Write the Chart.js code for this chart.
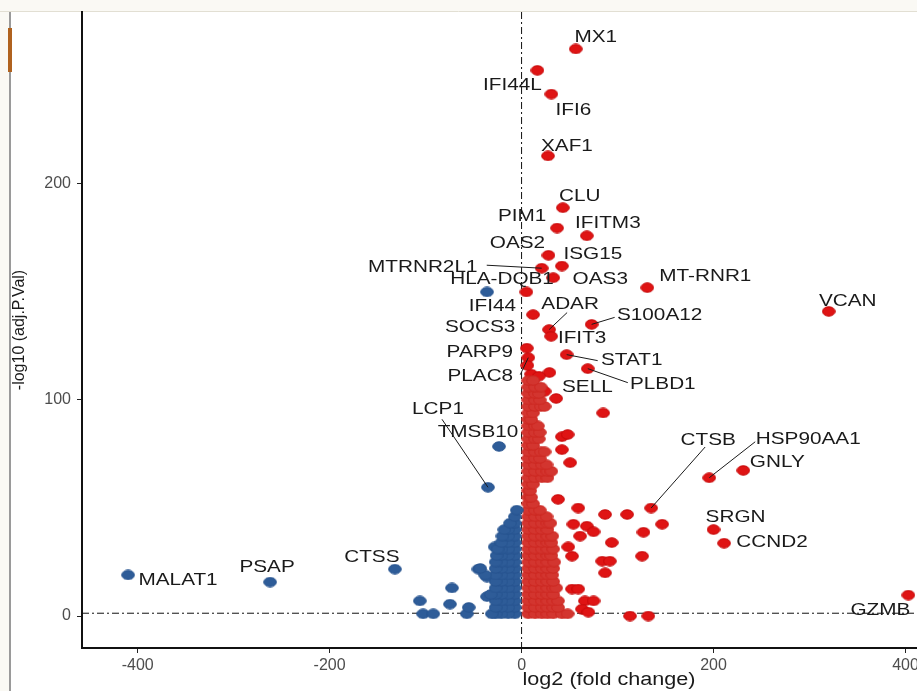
<!DOCTYPE html>
<html>
<head>
<meta charset="utf-8">
<script src="https://cdn.jsdelivr.net/npm/chart.js@4.4.1/dist/chart.umd.min.js"></script>
<style>
  html, body { margin: 0; padding: 0; background: #fff; }
  canvas { display: block; }
</style>
</head>
<body>
<canvas id="volcano" width="917" height="691"></canvas>
<script>
// labelled up-regulated genes
const upGenes = ["MX1", "IFI44L", "IFI6", "XAF1", "CLU", "PIM1", "IFITM3", "OAS2", "ISG15", "MTRNR2L1",
  "OAS3", "IFI44", "MT-RNR1", "VCAN", "SOCS3", "ADAR", "IFIT3", "S100A12", "PARP9", "STAT1",
  "PLAC8", "SELL", "PLBD1", "HSP90AA1", "GNLY", "CTSB", "SRGN", "CCND2", "GZMB"];
const upLogFC = [56.5, 16.5, 31, 27.5, 43, 37, 68, 28, 42, 21,
  33, 5, 131, 320, 12, 28.7, 30.8, 73, 5.5, 47,
  7, 29, 69, 195.5, 231, 135, 200, 211, 403];
const upLogP = [262.5, 252.6, 241.6, 213, 189, 179.6, 176, 167, 162, 161,
  156.6, 150, 152, 141, 139.5, 132.6, 129.5, 135, 124, 121,
  119.6, 112.7, 114.5, 64, 67.4, 50, 40, 33.7, 9.7];

// labelled down-regulated genes
const downGenes = ["MALAT1", "PSAP", "CTSS", "LCP1", "TMSB10", "HLA-DQB1"];
const downLogFC = [-410, -262, -132, -35, -23.5, -36];
const downLogP = [19, 15.7, 21.7, 59.6, 78.5, 150];

// unlabelled scattered genes
const otherUpFC = [36, 85, 42, 48, 42, 50.6, 38, 59, 87, 110, 146.5, 127, 54, 68, 75, 61, 94, 48.6, 52.6, 125.6,
  84, 92, 87, 52.6, 59, 66, 75, 63, 69.6, 113, 132, 10, 6, 18, 24];
const otherUpP = [100.7, 94, 83, 84, 77, 71, 54, 50, 47, 47, 42.5, 38.8, 42.5, 41.6, 39, 37, 34, 32, 27.7, 27.7,
  25.4, 25.4, 20, 12.5, 12.5, 7, 7, 3.2, 1.8, 0, 0, 112, 116, 111, 104];
const otherDownFC = [-45, -36, -72.5, -106, -74.6, -102.6, -92, -57, -55, -36, -28];
const otherDownP = [21.7, 18, 13, 7, 5.5, 1, 1, 1, 4, 9, 32];

// the dense cloud next to zero, read row by row (-log10 p, then fold changes in that row)
const upCoreP = [1, 4, 7, 10, 13, 16, 19, 22, 25, 28, 31, 34, 37, 40, 43, 46, 49, 52, 55, 58,
  61, 64, 67, 70, 73, 76, 79, 82, 85, 88, 91, 94, 97, 100, 103, 106, 109];
const upCoreFC = [
  [7, 14, 21, 27, 33, 42, 48], [7, 14, 21, 27, 33, 38], [7, 14, 21, 27, 33, 38], [7, 14, 21, 27, 33],
  [7, 14, 21, 27, 33, 36], [7, 14, 21, 27, 33], [7, 14, 21, 27, 32], [7, 14, 21, 27, 33],
  [7, 14, 21, 27, 34], [7, 14, 21, 27, 31], [7, 14, 21, 27, 33], [7, 14, 21, 27, 31],
  [7, 14, 21, 27, 32], [7, 14, 21, 27], [7, 14, 21, 27, 30], [7, 14, 21, 26],
  [7, 14, 19], [7, 12], [7, 10], [7, 9],
  [7, 12], [7, 14, 21, 27], [7, 14, 21, 27, 31], [7, 14, 21, 26], [7, 14, 19],
  [7, 14, 20, 24], [7, 12], [7, 14, 18], [7, 14, 19], [7, 14, 17],
  [7, 10], [7, 12], [7, 14, 20, 24], [7, 14, 19], [7, 14, 18], [7, 14, 20], [7, 12]];
const downCoreP = [1, 4, 7, 10, 13, 16, 19, 22, 25, 28, 31, 34, 37, 40, 43, 46, 49];
const downCoreFC = [
  [-7, -14, -21, -27, -31], [-7, -14, -21, -27], [-7, -14, -21, -27], [-7, -14, -21, -27, -32],
  [-7, -14, -21, -27], [-7, -14, -21, -27], [-7, -14, -21, -27, -38], [-7, -14, -21, -27, -43],
  [-7, -14, -21, -27], [-7, -14, -21, -26], [-7, -14, -21, -25], [-7, -14, -21],
  [-7, -14, -20], [-7, -14, -18], [-7, -12], [-7], [-5]];

const xTicks = [-400, -200, 0, 200, 400];
const yTicks = [0, 100, 200];
const pCutoff = 1.3;

// label placement, pixel offsets from the point
const labelSpot = {
  "MX1": [20, -12], "IFI44L": [-25, 15], "IFI6": [22, 16], "XAF1": [19, -10], "CLU": [17, -11],
  "PIM1": [-35, -12], "IFITM3": [21, -12], "OAS2": [-31, -12], "ISG15": [31, -12], "MTRNR2L1": [-119, -1],
  "OAS3": [47, 2], "IFI44": [-34, 14], "MT-RNR1": [58, -11], "VCAN": [19, -10], "SOCS3": [-53, 13],
  "ADAR": [21, -25], "IFIT3": [31, 2], "S100A12": [68, -9], "PARP9": [-47, 4], "STAT1": [65, 6],
  "PLAC8": [-48, 19], "SELL": [38, 15], "PLBD1": [75, 16], "HSP90AA1": [99, -38], "GNLY": [34, -8],
  "CTSB": [57, -68], "SRGN": [22, -12], "CCND2": [48, -1], "GZMB": [-28, 15],
  "MALAT1": [50, 5], "PSAP": [-3, -15], "CTSS": [-23, -12], "LCP1": [-50, -78], "TMSB10": [-21, -14],
  "HLA-DQB1": [15, -13]
};
const leaderEnd = {
  "MTRNR2L1": [-55, -3], "S100A12": [23, -7], "STAT1": [31, 6], "PLBD1": [40, 14], "ADAR": [18, -17],
  "HSP90AA1": [46, -36], "CTSB": [54, -61], "LCP1": [-46, -68], "PLAC8": [-8, 17]
};

function makeDot(fill, edge) {
  const c = document.createElement('canvas');
  c.width = 14; c.height = 11;
  const g = c.getContext('2d');
  g.beginPath();
  g.ellipse(7, 5.5, 6.3, 4.7, 0, 0, Math.PI * 2);
  g.fillStyle = fill;
  g.fill();
  g.lineWidth = 1;
  g.strokeStyle = edge;
  g.stroke();
  return c;
}

const redDot = makeDot('#df1414', '#c40808');
const redCoreDot = makeDot('#d3352f', '#cc2822');
const blueDot = makeDot('#2e5c98', '#28548f');

function pairs(xs, ys) {
  return xs.map((x, i) => ({ x: x, y: ys[i] }));
}
function rows(ps, xsRows) {
  const out = [];
  ps.forEach((p, i) => xsRows[i].forEach(x => out.push({ x: x, y: p })));
  return out;
}

const upLabelled = upGenes.map((g, i) => ({ x: upLogFC[i], y: upLogP[i], gene: g }));
const downLabelled = downGenes.map((g, i) => ({ x: downLogFC[i], y: downLogP[i], gene: g }));

function stretchText(ctx, txt, x, y, sx) {
  ctx.save();
  ctx.translate(x, y);
  ctx.scale(sx, 1);
  ctx.fillText(txt, 0, 0);
  ctx.restore();
}

const decoPlugin = {
  id: 'deco',
  beforeDraw(chart) {
    const ctx = chart.ctx;
    ctx.save();
    ctx.fillStyle = '#faf9f4';
    ctx.fillRect(0, 0, 917, 11);
    ctx.fillRect(0, 0, 9, 691);
    ctx.strokeStyle = '#e2dfd3';
    ctx.lineWidth = 1;
    ctx.beginPath(); ctx.moveTo(0, 11.5); ctx.lineTo(917, 11.5); ctx.stroke();
    ctx.strokeStyle = '#9a9a9a';
    ctx.lineWidth = 2;
    ctx.beginPath(); ctx.moveTo(10, 12); ctx.lineTo(10, 691); ctx.stroke();
    ctx.fillStyle = '#b0621f';
    ctx.fillRect(8, 28, 4, 44);
    ctx.restore();
  },
  beforeDatasetsDraw(chart) {
    const { ctx, chartArea: a, scales: { x, y } } = chart;
    ctx.save();
    ctx.strokeStyle = '#111';
    ctx.lineWidth = 1;
    ctx.setLineDash([7, 3, 2, 3]);
    const x0 = x.getPixelForValue(0);
    ctx.beginPath(); ctx.moveTo(x0, a.top); ctx.lineTo(x0, a.bottom); ctx.stroke();
    const yc = y.getPixelForValue(pCutoff);
    ctx.beginPath(); ctx.moveTo(a.left, yc); ctx.lineTo(a.right, yc); ctx.stroke();
    ctx.restore();
  },
  afterDatasetsDraw(chart) {
    const { ctx, scales: { x, y } } = chart;
    ctx.save();
    ctx.fillStyle = '#1a1a1a';
    ctx.strokeStyle = '#1a1a1a';
    ctx.lineWidth = 1;
    ctx.font = '17px "Liberation Sans", Arial, sans-serif';
    ctx.textAlign = 'center';
    ctx.textBaseline = 'middle';
    upLabelled.concat(downLabelled).forEach(p => {
      const px = x.getPixelForValue(p.x);
      const py = y.getPixelForValue(p.y);
      const end = leaderEnd[p.gene];
      if (end) {
        ctx.beginPath(); ctx.moveTo(px, py); ctx.lineTo(px + end[0], py + end[1]); ctx.stroke();
      }
      const off = labelSpot[p.gene];
      stretchText(ctx, p.gene, px + off[0], py + off[1], 1.22);
    });
    // x axis title
    ctx.font = '18px "Liberation Sans", Arial, sans-serif';
    stretchText(ctx, 'log2 (fold change)', 609, 680, 1.2);
    ctx.restore();
  }
};

new Chart(document.getElementById('volcano'), {
  type: 'scatter',
  data: {
    datasets: [
      { data: rows(downCoreP, downCoreFC), pointStyle: blueDot },
      { data: pairs(otherDownFC, otherDownP), pointStyle: blueDot },
      { data: downLabelled, pointStyle: blueDot },
      { data: rows(upCoreP, upCoreFC), pointStyle: redCoreDot },
      { data: pairs(otherUpFC, otherUpP), pointStyle: redDot },
      { data: upLabelled, pointStyle: redDot }
    ]
  },
  options: {
    responsive: false,
    animation: false,
    devicePixelRatio: 1,
    events: [],
    layout: { autoPadding: false, padding: { top: 12, right: 0, left: 0, bottom: 0 } },
    elements: { point: { radius: 6 } },
    plugins: { legend: { display: false }, tooltip: { enabled: false } },
    scales: {
      x: {
        type: 'linear',
        min: -458,
        max: 412,
        afterBuildTicks: s => { s.ticks = xTicks.map(v => ({ value: v })); },
        afterFit: s => { s.height = 43; s.paddingLeft = 0; s.paddingRight = 0; },
        ticks: { color: '#4d4d4d', font: { family: '"Liberation Sans", Arial', size: 16 }, padding: 3 },
        grid: { drawOnChartArea: false, drawTicks: true, tickLength: 5, color: '#222' },
        border: { display: true, color: '#111', width: 2 }
      },
      y: {
        type: 'linear',
        min: -14.8,
        max: 279.6,
        afterBuildTicks: s => { s.ticks = yTicks.map(v => ({ value: v })); },
        afterFit: s => { s.width = 82; s.paddingTop = 0; s.paddingBottom = 0; },
        ticks: { color: '#4d4d4d', font: { family: '"Liberation Sans", Arial', size: 16 }, padding: 6 },
        grid: { drawOnChartArea: false, drawTicks: true, tickLength: 5, color: '#222' },
        border: { display: true, color: '#111', width: 2 },
        title: {
          display: true,
          text: '-log10 (adj.P.Val)',
          color: '#1a1a1a',
          font: { family: '"Liberation Sans", Arial', size: 16 },
          padding: { top: 10, bottom: 0 }
        }
      }
    }
  },
  plugins: [decoPlugin]
});
</script>
</body>
</html>
